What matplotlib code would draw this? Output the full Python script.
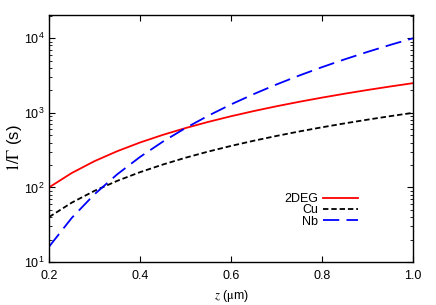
import matplotlib
matplotlib.use("Agg")
import matplotlib.pyplot as plt
from matplotlib.ticker import LogLocator, NullFormatter, FixedLocator

plt.rcParams['font.family'] = ['Liberation Sans', 'DejaVu Sans']
plt.rcParams['mathtext.fontset'] = 'stix'

# distance z (um) and lifetimes 1/Gamma (s)
z = [0.20, 0.25, 0.30, 0.35, 0.40, 0.45, 0.50, 0.55, 0.60,
     0.65, 0.70, 0.75, 0.80, 0.85, 0.90, 0.95, 1.00]
deg2 = [100, 156, 225, 306, 400, 506, 625, 756, 900,
        1056, 1225, 1406, 1600, 1806, 2025, 2256, 2500]
cu = [40, 62.5, 90, 122.5, 160, 202.5, 250, 302.5, 360,
      422.5, 490, 562.5, 640, 722.5, 810, 902.5, 1000]
nb = [16, 39, 81, 150, 256, 410, 625, 915, 1296,
      1785, 2401, 3164, 4096, 5220, 6561, 8145, 10000]

fig = plt.figure(figsize=(4.36, 3.05), dpi=100)
ax = fig.add_axes([49/436, 1 - 262/305, 364/436, 247/305])

ax.plot(z, deg2, color='#ff0000', lw=1.3, label='2DEG')
ax.plot(z, cu, color='black', lw=1.3, dashes=(3, 1.6), label='Cu')
ax.plot(z, nb, color='#0000ff', lw=1.3, dashes=(9, 4), label='Nb')

ax.set_yscale('log')
ax.set_xlim(0.2, 1.0)
ax.set_ylim(10, 2.05e4)
ax.xaxis.set_major_locator(FixedLocator([0.2, 0.4, 0.6, 0.8, 1.0]))
ax.xaxis.set_major_formatter(matplotlib.ticker.FormatStrFormatter('%.1f'))
ax.yaxis.set_major_locator(LogLocator(base=10))
ax.yaxis.set_minor_locator(LogLocator(base=10, subs=range(2, 10)))
ax.yaxis.set_minor_formatter(NullFormatter())

ax.tick_params(which='both', direction='in', top=True, right=True, labelsize=9)
ax.tick_params(which='major', length=4, width=0.8)
ax.tick_params(which='minor', length=2, width=0.6)
ax.tick_params(axis='x', pad=6)
for s in ax.spines.values():
    s.set_linewidth(1.0)

ax.set_ylabel(r'$1/\Gamma$ (s)', fontsize=12)
ax.yaxis.set_label_coords(-0.068, 0.46)
ax.set_xlabel(r'$z$ ($\mathrm{\mu}$m)', fontsize=9, labelpad=4)

ax.legend(loc='center right', bbox_to_anchor=(0.849, 0.209), frameon=False,
          markerfirst=False, fontsize=9, handlelength=2.8, handletextpad=0.4,
          labelspacing=-0.05, borderpad=0, borderaxespad=0)

fig.savefig('out.png', dpi=100)
